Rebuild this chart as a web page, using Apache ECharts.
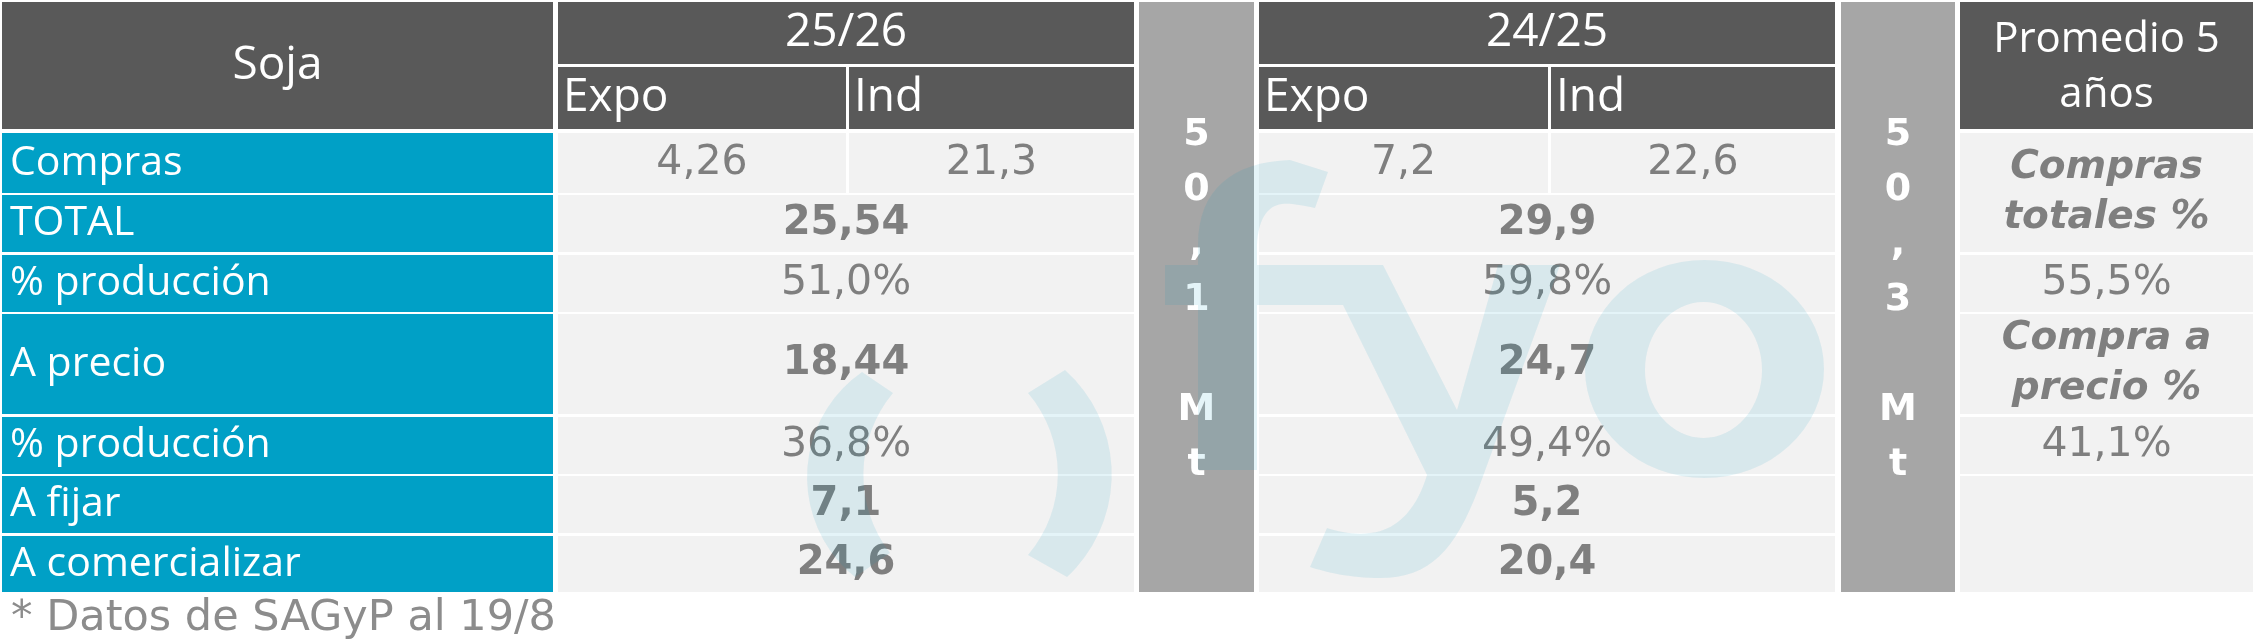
<!DOCTYPE html>
<html>
<head>
<meta charset="utf-8">
<script src="https://cdn.jsdelivr.net/npm/echarts@6/dist/echarts.min.js"></script>
<style>
html,body{margin:0;padding:0;background:#ffffff;}
#chart{width:2253px;height:639px;}
</style>
</head>
<body>
<div id="chart"></div>
<script>
// ---------------- DATA ----------------
const cornerTitle = 'Soja';
const seasons = ['25/26', '24/25'];
const buyerTypes = ['Expo', 'Ind'];
const rowLabels = ['Compras', 'TOTAL', '% producción', 'A precio', '% producción', 'A fijar', 'A comercializar'];
const compras2526 = [4.26, 21.3];          // Expo, Ind
const compras2425 = [7.2, 22.6];           // Expo, Ind
const rest2526 = [25.54, 51.0, 18.44, 36.8, 7.1, 24.6]; // TOTAL .. A comercializar
const rest2425 = [29.9, 59.8, 24.7, 49.4, 5.2, 20.4];
const production = [50.1, 50.3];          // 25/26, 24/25
const productionUnit = 'Mt';
const avgTitle = 'Promedio 5\naños';
const avgLabels = ['Compras\ntotales %', 'Compra a\nprecio %'];
const avgValues = [55.5, 41.1];
const footnote = '* Datos de SAGyP al 19/8';

// ---------------- LAYOUT / STYLE ----------------
const COLS = [[2,553],[558,846],[849,1134],[1139,1254],[1259,1548],[1551,1835],[1841,1955],[1960,2253]];
const ROWS = [[2,64],[67,129],[133,193],[195,252],[255,312],[314,414],[417,474],[476,533],[536,592]];
const STYLE = {
  header: '#595959', label: '#00A0C6', cell: '#F2F2F2', band: '#A6A6A6',
  value: '#7F7F7F', white: '#FFFFFF', note: '#8C8C8C', mark: 'rgba(4,147,185,0.105)',
  percentRows: [2, 4], boldRows: [1, 3, 5, 6]
};
const T = {
  head:    {fontFamily:'Open Sans', fontSize:46, fill:STYLE.white, pos:'inside'},
  sub:     {fontFamily:'Open Sans', fontSize:46, fill:STYLE.white, pos:'insideLeft', dist:5},
  avgHead: {fontFamily:'Open Sans', fontSize:42, fill:STYLE.white, pos:'inside', lineHeight:55, offset:[0,2]},
  label:   {fontFamily:'Open Sans', fontSize:41, fill:STYLE.white, pos:'insideLeft', dist:8},
  val:     {fontFamily:'DejaVu Sans', fontSize:41, fill:STYLE.value, pos:'inside'},
  valBold: {fontFamily:'DejaVu Sans', fontSize:40, fontWeight:'bold', fill:STYLE.value, pos:'inside'},
  avgIt:   {fontFamily:'DejaVu Sans', fontSize:39, fontWeight:'bold', fontStyle:'italic', fill:STYLE.value, pos:'inside', lineHeight:50},
  band:    {fontFamily:'DejaVu Sans', fontSize:38, fontWeight:'bold', fill:STYLE.white, pos:'inside', lineHeight:55, offset:[0,3]}
};
// watermark logo outline (decoration, axis units)
const LOGO = [
  'M862 372 A128 128 0 0 0 855 577 L890 553 A128 128 0 0 1 893 393 Z',
  'M1065 370 A140 140 0 0 1 1067 577 L1028 555 A125 125 0 0 0 1028 393 Z',
  'M1198 470 L1198 305 L1165 305 L1165 265 L1198 265 L1198 245 C1198 190 1232 162 1290 160 L1328 172 L1315 208 C1300 205 1290 203 1282 204 C1266 206 1257 222 1257 250 L1257 265 L1383 265 L1457 410 L1498 265 L1560 265 L1478 490 C1455 550 1430 578 1380 578 C1350 578 1325 572 1310 567 L1327 528 C1340 532 1355 535 1370 533 C1400 530 1418 505 1427 475 L1343 305 L1257 305 L1257 470 Z',
  'M1585 369 A119.5 109 0 1 1 1824 369 A119.5 109 0 1 1 1585 369 Z M1645 370 A58.5 68 0 1 0 1762 370 A58.5 68 0 1 0 1645 370 Z'
];

// ---------------- BUILD CELLS ----------------
function fmt(v, pct) {
  return pct ? v.toFixed(1).replace('.', ',') + '%' : String(v).replace('.', ',');
}
const cells = [];
function add(c0, c1, r0, r1, fill, text, st) { cells.push({c0, c1, r0, r1, fill, text, st}); }

// header
add(0, 0, 0, 1, STYLE.header, cornerTitle, T.head);
add(1, 2, 0, 0, STYLE.header, seasons[0], T.head);
add(1, 1, 1, 1, STYLE.header, buyerTypes[0], T.sub);
add(2, 2, 1, 1, STYLE.header, buyerTypes[1], T.sub);
add(4, 5, 0, 0, STYLE.header, seasons[1], T.head);
add(4, 4, 1, 1, STYLE.header, buyerTypes[0], T.sub);
add(5, 5, 1, 1, STYLE.header, buyerTypes[1], T.sub);
add(7, 7, 0, 1, STYLE.header, avgTitle, T.avgHead);
// production bands
[3, 6].forEach((c, i) => {
  const txt = (fmt(production[i], false) + ' ' + productionUnit).split('').join('\n');
  add(c, c, 0, ROWS.length - 1, STYLE.band, txt, T.band);
});
// body rows
rowLabels.forEach((lab, i) => {
  const r = i + 2;
  add(0, 0, r, r, STYLE.label, lab, T.label);
  if (i === 0) {
    add(1, 1, r, r, STYLE.cell, fmt(compras2526[0]), T.val);
    add(2, 2, r, r, STYLE.cell, fmt(compras2526[1]), T.val);
    add(4, 4, r, r, STYLE.cell, fmt(compras2425[0]), T.val);
    add(5, 5, r, r, STYLE.cell, fmt(compras2425[1]), T.val);
  } else {
    const pct = STYLE.percentRows.indexOf(i) >= 0;
    const st = STYLE.boldRows.indexOf(i) >= 0 ? T.valBold : T.val;
    add(1, 2, r, r, STYLE.cell, fmt(rest2526[i - 1], pct), st);
    add(4, 5, r, r, STYLE.cell, fmt(rest2425[i - 1], pct), st);
  }
});
// five-year average column
add(7, 7, 2, 3, STYLE.cell, avgLabels[0], T.avgIt);
add(7, 7, 4, 4, STYLE.cell, fmt(avgValues[0], true), T.val);
add(7, 7, 5, 5, STYLE.cell, avgLabels[1], T.avgIt);
add(7, 7, 6, 6, STYLE.cell, fmt(avgValues[1], true), T.val);
add(7, 7, 7, 8, STYLE.cell, '', T.val);

const cellData = cells.map(c => [COLS[c.c0][0], COLS[c.c1][1], ROWS[c.r0][0], ROWS[c.r1][1]]);

// ---------------- CHART ----------------
const chart = echarts.init(document.getElementById('chart'), null, {renderer: 'canvas'});
chart.setOption({
  animation: false,
  backgroundColor: '#ffffff',
  title: {
    text: footnote, left: 11, top: 597, padding: 0,
    textStyle: {fontFamily: 'DejaVu Sans', fontSize: 43, fontWeight: 'normal', color: STYLE.note}
  },
  grid: {left: 0, right: 0, top: 0, bottom: 0},
  xAxis: {type: 'value', min: 0, max: 2253, show: false},
  yAxis: {type: 'value', min: 0, max: 639, inverse: true, show: false},
  series: [
    {
      type: 'custom', z: 2, silent: true,
      encode: {x: [0, 1], y: [2, 3]},
      data: cellData,
      renderItem: function (params, api) {
        const c = cells[params.dataIndex];
        const p0 = api.coord([api.value(0), api.value(2)]);
        const p1 = api.coord([api.value(1), api.value(3)]);
        const st = c.st;
        const ts = {
          text: c.text, fill: st.fill, fontFamily: st.fontFamily, fontSize: st.fontSize,
          fontWeight: st.fontWeight || 'normal', fontStyle: st.fontStyle || 'normal',
          align: st.pos === 'insideLeft' ? 'left' : 'center', verticalAlign: 'middle'
        };
        if (st.lineHeight) ts.lineHeight = st.lineHeight;
        const tc = {position: st.pos};
        if (st.dist != null) tc.distance = st.dist;
        if (st.offset) tc.offset = st.offset;
        return {
          type: 'rect',
          shape: {x: p0[0], y: p0[1], width: p1[0] - p0[0], height: p1[1] - p0[1]},
          style: {fill: c.fill},
          textContent: {style: ts},
          textConfig: tc
        };
      }
    },
    {
      type: 'custom', z: 5, silent: true,
      data: [[0, 0]],
      renderItem: function (params, api) {
        const o = api.coord([0, 0]);
        const u = api.coord([1, 1]);
        return {
          type: 'group', x: o[0], y: o[1], scaleX: u[0] - o[0], scaleY: u[1] - o[1],
          children: LOGO.map(d => ({type: 'path', shape: {pathData: d}, style: {fill: STYLE.mark}}))
        };
      }
    }
  ]
});
</script>
</body>
</html>
